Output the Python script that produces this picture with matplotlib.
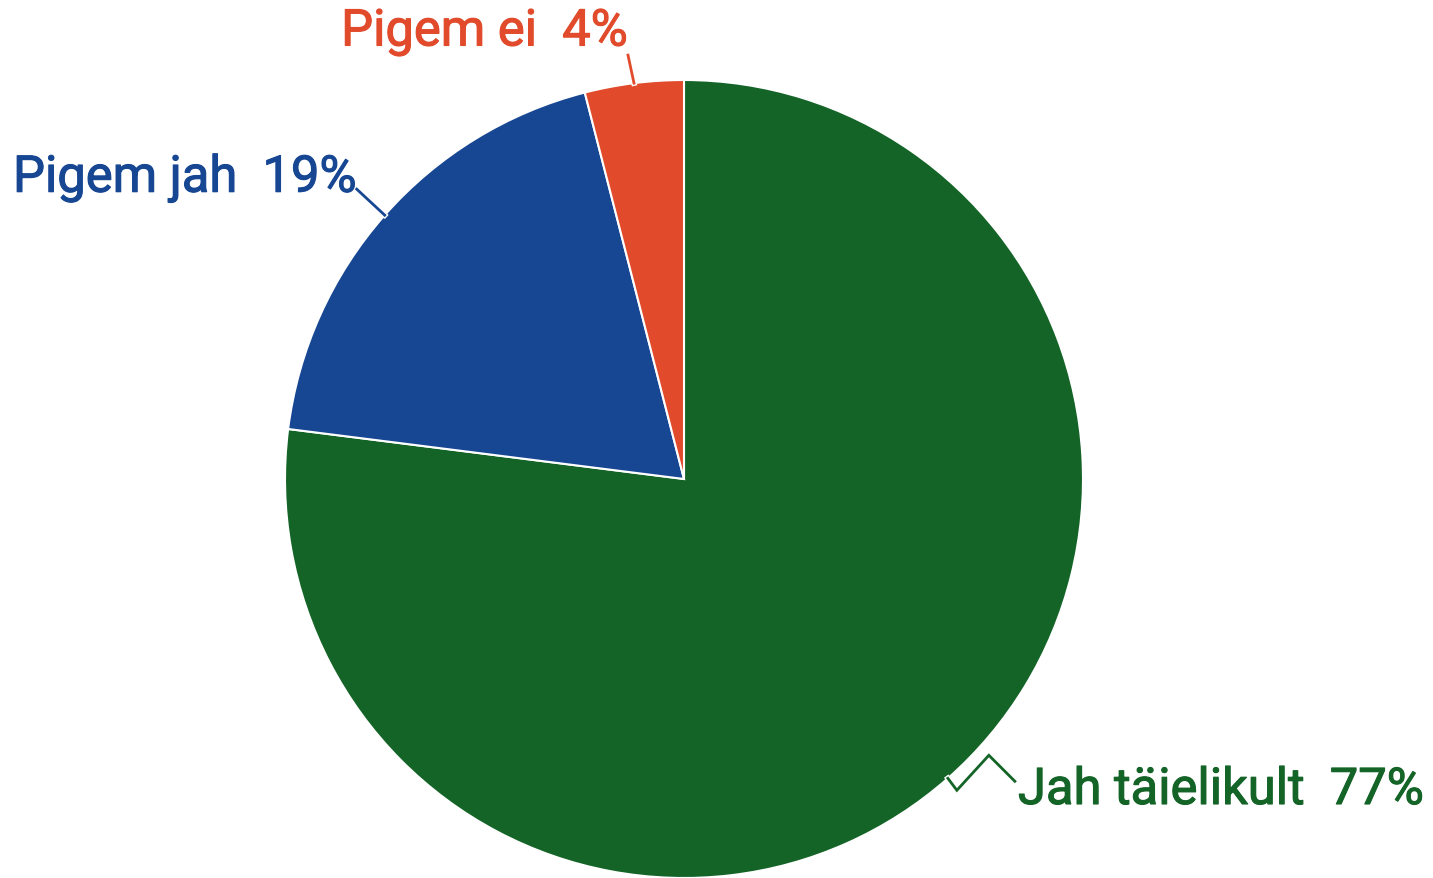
import numpy as np
import matplotlib.pyplot as plt
import matplotlib.patheffects as pe

labels = ["Jah täielikult", "Pigem jah", "Pigem ei"]
values = [77, 19, 4]
colors = ["#146428", "#174793", "#e14b2c"]

W, H = 1433, 879
plt.rcParams["font.family"] = ["Roboto", "DejaVu Sans"]

fig = plt.figure(figsize=(W / 100, H / 100), dpi=100)
ax = fig.add_axes([0, 0, 1, 1])

cx, cy, r = 684, H - 480, 399
wedges, _ = ax.pie(values, colors=colors, startangle=90, counterclock=False,
                   center=(cx, cy), radius=r, frame=True,
                   wedgeprops=dict(edgecolor="white", linewidth=1.5))
ax.set_xlim(0, W)
ax.set_ylim(0, H)
ax.set_aspect("equal")
ax.axis("off")

# leader paths relative to the wedge's mid-angle point on the rim, and text placement
leaders = [
    [(0, 0), (9, -12), (41, 23), (67, -3)],
    [(0, 0), (-28, 26)],
    [(0, 0), (-6, 28)],
]
text_pos = [((1018, H - 791), "left"), ((357, H - 179), "right"), ((628, H - 33), "right")]

for w, lab, val, col, path, (tp, ha) in zip(wedges, labels, values, colors, leaders, text_pos):
    mid = np.deg2rad((w.theta1 + w.theta2) / 2)
    x0 = cx + r * np.cos(mid)
    y0 = cy + r * np.sin(mid)
    xs = [x0 + dx for dx, dy in path]
    ys = [y0 + dy for dx, dy in path]
    ax.plot(xs, ys, color=col, lw=2, solid_joinstyle="miter",
            path_effects=[pe.Stroke(linewidth=4, foreground="white"), pe.Normal()])
    ax.text(tp[0], tp[1], f"{lab}  {val}%", color=col, fontsize=36.5,
            fontweight="normal", ha=ha, va="center",
            path_effects=[pe.withStroke(linewidth=0.8, foreground=col)])

fig.savefig("out.png", dpi=100, facecolor="white")
